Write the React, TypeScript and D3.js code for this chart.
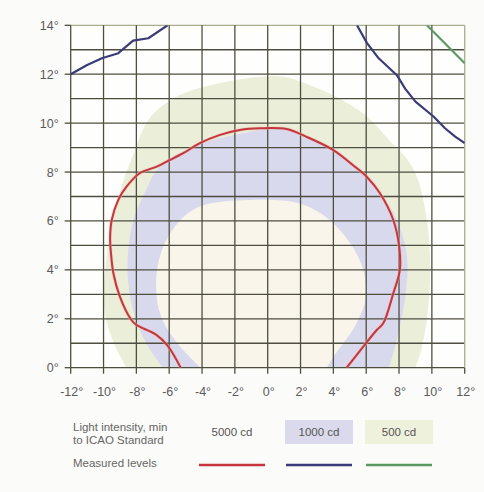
import React from "react";
import * as d3 from "d3";

// degrees: [horizontal, vertical]
const redMeasured: [number, number][] = [
  [-5.3, 0], [-6.1, 0.9], [-6.8, 1.35], [-8.0, 1.75], [-8.3, 1.95], [-9.0, 2.9],
  [-9.4, 3.86], [-9.55, 4.7], [-9.6, 5.3], [-9.5, 6.04], [-9.1, 6.86],
  [-8.6, 7.4], [-7.8, 7.95], [-6.76, 8.22], [-6.15, 8.43], [-5.14, 8.77], [-4.13, 9.18],
  [-2.9, 9.52], [-1.7, 9.72], [-0.47, 9.79], [1.15, 9.76], [2.37, 9.44], [4.0, 8.9],
  [5.2, 8.28], [6.03, 7.81], [6.84, 7.13], [7.65, 6.04], [8.01, 4.95], [8.05, 4.0],
  [7.65, 3.04], [7.04, 1.82], [6.64, 1.54], [5.82, 0.86], [4.81, 0],
];
const blueMeasuredLeft: [number, number][] = [
  [-12, 12.0], [-11.0, 12.38], [-10.1, 12.65], [-9.1, 12.86], [-8.2, 13.37],
  [-7.27, 13.47], [-6.1, 14],
];
const blueMeasuredRight: [number, number][] = [
  [5.44, 14], [6.05, 13.27], [6.76, 12.65], [7.87, 11.96], [8.38, 11.4],
  [9.0, 10.88], [10.1, 10.27], [10.8, 9.79], [11.42, 9.45], [12, 9.18],
];
const greenMeasured: [number, number][] = [[9.7, 14], [12, 12.45]];

// ICAO minimum zones
const zone500: [number, number][] = [
  [-8.6, 0], [-9.5, 1.2], [-10, 2.6], [-9.9, 4.0], [-9.6, 5.5], [-9.0, 7.2],
  [-8.2, 8.7], [-7.2, 10.2], [-5.5, 11.1], [-3.5, 11.55], [-0.5, 11.9], [1, 11.9],
  [2.4, 11.6], [4.4, 11.0], [6.0, 10.3], [7.4, 9.3], [8.4, 8.6], [9.1, 7.8],
  [9.7, 6], [9.9, 4], [9.7, 2], [9.3, 0.6], [9.0, 0],
];
const zone1000: [number, number][] = [
  [-6.4, 0], [-7.4, 1.0], [-8.1, 2.1], [-8.5, 3.5], [-8.5, 4.8], [-8.2, 6.0],
  [-7.6, 7.0], [-6.6, 8.2], [-4.5, 9.05], [-2.1, 9.5], [0, 9.75], [1.5, 9.7],
  [2.5, 9.4], [4, 8.9], [5.3, 8.3], [6.8, 7.2], [7.9, 6.0], [8.5, 4.5],
  [8.4, 3.0], [8.0, 1.5], [7.4, 0],
];
const zone5000: [number, number][] = [
  [-4.1, 0], [-5.5, 1.0], [-6.5, 2.1], [-6.8, 3.4], [-6.5, 4.7], [-5.5, 5.9],
  [-4.1, 6.6], [-1.1, 6.86], [2.0, 6.7], [4.0, 5.9], [5.6, 4.4], [6.0, 3.0],
  [5.4, 1.8], [4.0, 0.45], [3.6, 0],
];

const xTicks = [-12, -10, -8, -6, -4, -2, 0, 2, 4, 6, 8, 10, 12];
const yTicks = [0, 2, 4, 6, 8, 10, 12, 14];
const yGrid = d3.range(0, 15, 1);

const legendZones = ["5000 cd", "1000 cd", "500 cd"];
const zoneColors = ["none", "#dbdaec", "#eef1dc"];
const lineColors = ["#c4373d", "#3b3b78", "#5a9a62"];

export default function App() {
  const x = d3.scaleLinear().domain([-12, 12]).range([70.7, 464.7]);
  const y = d3.scaleLinear().domain([0, 14]).range([367.7, 25.3]);
  const [x0, x1] = x.range();
  const [y0, y1] = y.range();

  const zoneLine = d3.line<[number, number]>()
    .x(d => x(d[0])).y(d => y(d[1]))
    .curve(d3.curveCatmullRom);
  const measLine = d3.line<[number, number]>()
    .x(d => x(d[0])).y(d => y(d[1]));
  const smoothLine = d3.line<[number, number]>()
    .x(d => x(d[0])).y(d => y(d[1]))
    .curve(d3.curveCatmullRom.alpha(0.5));

  const font = "'Liberation Sans', Arial, sans-serif";
  const legendX = [232, 319, 399];

  return (
    <svg width={484} height={492} style={{ position: "absolute", left: 0, top: 0, background: "#fbfbf9" }}
      fontFamily={font}>
      <defs>
        <clipPath id="plot">
          <rect x={x0} y={y1} width={x1 - x0} height={y0 - y1} />
        </clipPath>
      </defs>
      <rect x={x0} y={y1} width={x1 - x0} height={y0 - y1} fill="#fefefc" />
      <g clipPath="url(#plot)">
        <path d={zoneLine(zone500) + "Z"} fill="#ebefda" />
        <path d={zoneLine(zone1000) + "Z"} fill="#d9d9ee" />
        <path d={zoneLine(zone5000) + "Z"} fill="#f9f5ea" />
      </g>
      {/* grid */}
      {yGrid.map(v => (
        <line key={"h" + v} x1={x0} x2={x1} y1={y(v)} y2={y(v)}
          stroke={v === 14 ? "#a9ad8e" : "#4e4e40"} strokeWidth={1.3} />
      ))}
      {xTicks.map(v => (
        <line key={"v" + v} x1={x(v)} x2={x(v)} y1={y1} y2={y0}
          stroke={v === 12 ? "#a9ad8e" : "#4e4e40"} strokeWidth={1.3} />
      ))}
      {/* ticks */}
      {yTicks.map(v => (
        <g key={"yt" + v}>
          <line x1={x0 - 6} x2={x0} y1={y(v)} y2={y(v)} stroke="#4e4e40" strokeWidth={1.3} />
          <text x={x0 - 12} y={y(v) + 4.5} textAnchor="end" fontSize={12.5} fill="#5a5a5a">{v}°</text>
        </g>
      ))}
      {xTicks.map(v => (
        <g key={"xt" + v}>
          <line x1={x(v)} x2={x(v)} y1={y0} y2={y0 + 6} stroke="#4e4e40" strokeWidth={1.3} />
          <text x={x(v) + 1} y={y0 + 28} textAnchor="middle" fontSize={12.5} fill="#5a5a5a">{v}°</text>
        </g>
      ))}
      {/* measured levels */}
      <g clipPath="url(#plot)" fill="none" strokeLinejoin="round">
        <path d={smoothLine(redMeasured) || ""} stroke="#f2b7b0" strokeWidth={3.5} opacity={0.5} />
        <path d={smoothLine(redMeasured) || ""} stroke={lineColors[0]} strokeWidth={2} />
        <path d={measLine(blueMeasuredLeft) || ""} stroke={lineColors[1]} strokeWidth={2.2} />
        <path d={measLine(blueMeasuredRight) || ""} stroke={lineColors[1]} strokeWidth={2.2} />
        <path d={measLine(greenMeasured) || ""} stroke={lineColors[2]} strokeWidth={2.2} />
      </g>
      {/* legend */}
      <g fill="#666" fontSize={11.5}>
        <text x={73} y={431}>Light intensity, min</text>
        <text x={73} y={444}>to ICAO Standard</text>
        <text x={73} y={467}>Measured levels</text>
      </g>
      {legendZones.map((z, i) => (
        <g key={z}>
          {zoneColors[i] !== "none" && (
            <rect x={legendX[i] - 34} y={420} width={68} height={24} fill={zoneColors[i]} />
          )}
          <text x={legendX[i]} y={436} textAnchor="middle" fontSize={11.5} fill="#555">{z}</text>
          <line x1={legendX[i] - 33} x2={legendX[i] + 33} y1={465} y2={465}
            stroke={lineColors[i]} strokeWidth={2.5} />
        </g>
      ))}
    </svg>
  );
}
